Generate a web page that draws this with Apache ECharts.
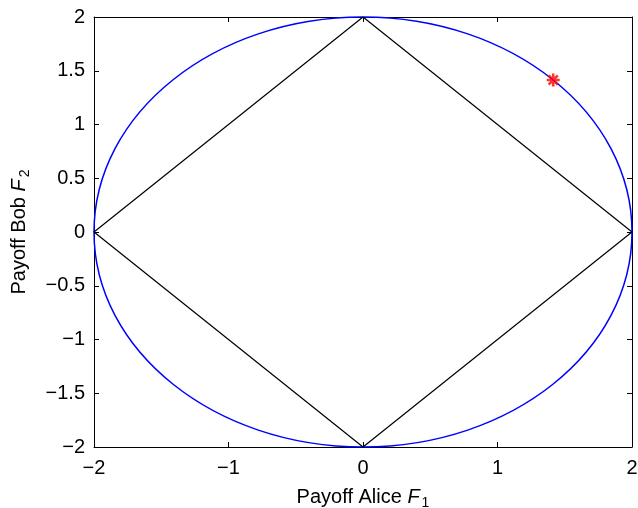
<!DOCTYPE html>
<html>
<head>
<meta charset="utf-8">
<script src="https://cdn.jsdelivr.net/npm/echarts@6/dist/echarts.min.js"></script>
<style>html,body{margin:0;padding:0;background:#fff}#c{width:638px;height:508px}</style>
</head>
<body>
<div id="c"></div>
<script>
// Data
var circleCenter = [0, 0];
var circleRadius = [2];
var diamondX = [2, 0, -2, 0, 2];
var diamondY = [0, 2, 0, -2, 0];
var starPoint = [1.4142, 1.4142];
var xTicks = [-2, -1, 0, 1, 2];
var yTicks = [-2, -1.5, -1, -0.5, 0, 0.5, 1, 1.5, 2];

var chart = echarts.init(document.getElementById('c'));
var fontFam = '"Liberation Sans", Arial, Helvetica, sans-serif';
function fmt(v) { return String(v).replace('-', '\u2212'); }
var starPath = 'path://M8,0 L12,0 L12,20 L8,20 Z M0,8 L20,8 L20,12 L0,12 Z ' +
  'M1.52,4.34 L4.34,1.52 L18.48,15.66 L15.66,18.48 Z M15.66,1.52 L18.48,4.34 L4.34,18.48 L1.52,15.66 Z';

var diamondData = diamondX.map(function (x, i) { return [x, diamondY[i]]; });

var richName = {
  n: { fontSize: 20, lineHeight: 20, fontFamily: fontFam, color: '#000', verticalAlign: 'top' },
  i: { fontSize: 20, lineHeight: 20, fontFamily: fontFam, fontStyle: 'italic', color: '#000', verticalAlign: 'top' },
  s: { fontSize: 14, lineHeight: 14, fontFamily: fontFam, color: '#000', verticalAlign: 'top', padding: [9, 0, 0, 2] }
};

var baseAxis = {
  axisLine: { show: true, onZero: false, lineStyle: { color: '#000', width: 1 } },
  axisTick: { show: true, inside: true, length: 5, lineStyle: { color: '#000', width: 1 } },
  splitLine: { show: false },
  axisLabel: { color: '#000', fontSize: 20, fontFamily: fontFam, formatter: fmt }
};

var option = {
  animation: false,
  backgroundColor: '#fff',
  grid: { left: 94, right: 6, top: 17, bottom: 61, containLabel: false, outerBoundsMode: 'none' },
  xAxis: [
    Object.assign({}, baseAxis, {
      type: 'value', min: -2, max: 2, interval: 1, position: 'bottom',
      axisLabel: Object.assign({}, baseAxis.axisLabel, { margin: 11 }),
      name: '{n|Payoff Alice }{i|F}{s|1}',
      nameLocation: 'middle', nameGap: 40,
      nameTextStyle: { rich: richName }
    }),
    Object.assign({}, baseAxis, {
      type: 'value', min: -2, max: 2, interval: 1, position: 'top',
      axisLabel: { show: false }
    })
  ],
  yAxis: [
    Object.assign({}, baseAxis, {
      type: 'value', min: -2, max: 2, interval: 0.5, position: 'left',
      axisLabel: Object.assign({}, baseAxis.axisLabel, { margin: 9 }),
      name: '{n|Payoff Bob }{i|F}{s|2}',
      nameLocation: 'middle', nameGap: 65, nameRotate: 90,
      nameTextStyle: { rich: richName }
    }),
    Object.assign({}, baseAxis, {
      type: 'value', min: -2, max: 2, interval: 0.5, position: 'right',
      axisLabel: { show: false }
    })
  ],
  series: [
    {
      type: 'custom',
      xAxisIndex: 0, yAxisIndex: 0,
      data: [[circleCenter[0], circleCenter[1], circleRadius[0]]],
      renderItem: function (params, api) {
        var c = api.coord([api.value(0), api.value(1)]);
        var s = api.size([api.value(2), api.value(2)]);
        return {
          type: 'ellipse',
          shape: { cx: c[0], cy: c[1], rx: s[0], ry: s[1] },
          style: { fill: 'none', stroke: '#0000ff', lineWidth: 1.5 },
          silent: true
        };
      },
      z: 2
    },
    {
      type: 'line',
      xAxisIndex: 0, yAxisIndex: 0,
      data: diamondData,
      symbol: 'none',
      lineStyle: { color: '#000', width: 1.2 },
      z: 3
    },
    {
      type: 'scatter',
      xAxisIndex: 0, yAxisIndex: 0,
      data: [starPoint],
      symbol: starPath,
      symbolSize: 13,
      itemStyle: { color: '#ff0000' },
      z: 4
    }
  ]
};
chart.setOption(option);
</script>
</body>
</html>
